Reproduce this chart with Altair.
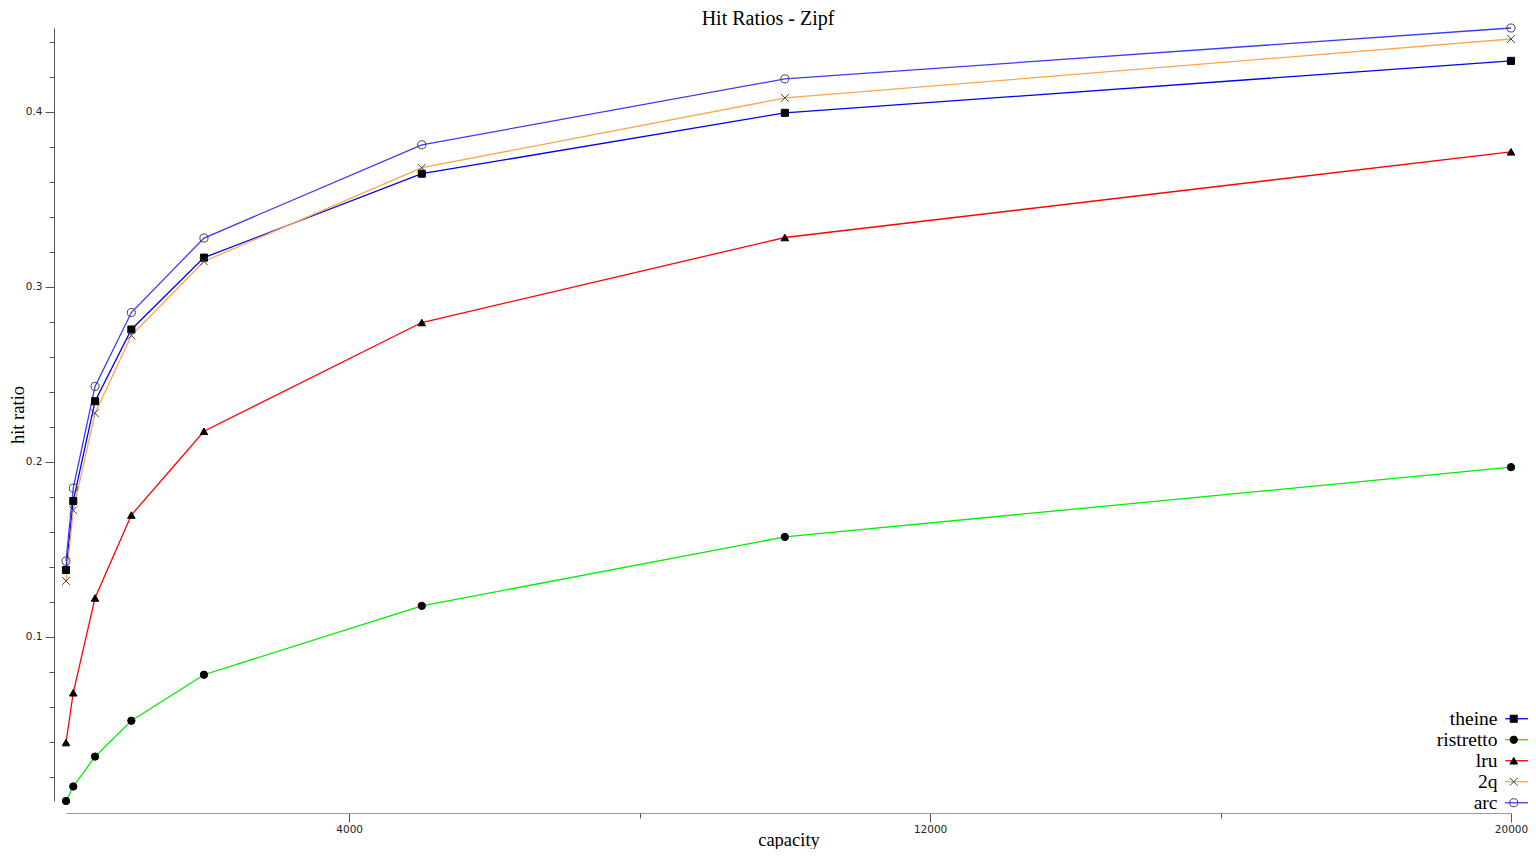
import altair as alt
import pandas as pd

# ---- data ----
capacity = [100, 200, 500, 1000, 2000, 5000, 10000, 20000]
theine = [0.1381, 0.1775, 0.2346, 0.2756, 0.3167, 0.3647, 0.3995, 0.4292]
ristretto = [0.0060, 0.0143, 0.0314, 0.0519, 0.0782, 0.1176, 0.1570, 0.1969]
lru = [0.0394, 0.0679, 0.1221, 0.1695, 0.2174, 0.2796, 0.3282, 0.3772]
twoq = [0.1318, 0.1723, 0.2277, 0.2722, 0.3145, 0.3681, 0.4080, 0.4417]
arc = [0.1432, 0.1849, 0.2431, 0.2853, 0.3279, 0.3812, 0.4189, 0.4480]

series_names = ["theine", "ristretto", "lru", "2q", "arc"]
series_values = [theine, ristretto, lru, twoq, arc]

line_colors = ["#0000ee", "#00ee00", "#ff0000", "#ffa54f", "#3a3aff"]
marker_shapes = ["square", "circle", "triangle-up", "M-1,-1L1,1M-1,1L1,-1", "circle"]
marker_fills = ["#000000", "#000000", "#000000", "transparent", "transparent"]
marker_strokes = ["#000000", "#000000", "#000000", "#444444", "#444444"]
marker_sizes = [50, 65, 60, 45, 85]

x_major_ticks = [4000, 12000, 20000]
x_minor_ticks = [8000, 16000]
y_major_ticks = [0.1, 0.2, 0.3, 0.4]
y_minor_ticks = [0.02, 0.04, 0.06, 0.08, 0.10, 0.12, 0.14, 0.16, 0.18, 0.20, 0.22,
                 0.24, 0.26, 0.28, 0.30, 0.32, 0.34, 0.36, 0.38, 0.40, 0.42, 0.44]

rows = []
for i, (name, vals) in enumerate(zip(series_names, series_values)):
    for c, v in zip(capacity, vals):
        rows.append({"capacity": c, "ratio": v, "series": name, "marker": name, "order": i})
df = pd.DataFrame(rows)

all_vals = [v for vals in series_values for v in vals]
y_domain = [min(all_vals), max(all_vals)]
x_domain = [min(capacity), max(capacity)]

SERIF = "Liberation Serif"
SANS = "DejaVu Sans"
LEGEND_FONT = 19.5

x_scale = alt.Scale(domain=x_domain, nice=False, zero=False)
y_scale = alt.Scale(domain=y_domain, nice=False, zero=False)

x_axis_major = alt.Axis(values=x_major_ticks, format="d", title="capacity", orient="bottom",
                        offset=12, tickSize=9, labelPadding=2, grid=False,
                        domainColor="#999999", tickColor="#555555", labelColor="#222222",
                        labelFont=SANS, labelFontSize=10.5, labelFlush=False, labelOverlap=False,
                        titleFont=SERIF, titleFontSize=18.5, titleFontWeight="normal",
                        titleColor="black", titleBaseline="alphabetic", titlePadding=11)
x_axis_minor = alt.Axis(values=x_minor_ticks, labels=False, title=None, orient="bottom",
                        offset=12, tickSize=5, domain=False, grid=False, tickColor="#555555")
y_axis_major = alt.Axis(values=y_major_ticks, format=".1f", title="hit ratio", orient="left",
                        offset=12, tickSize=9, labelPadding=3, grid=False,
                        domainColor="#555555", tickColor="#555555", labelColor="#222222",
                        labelFont=SANS, labelFontSize=10.5, labelOverlap=False,
                        titleFont=SERIF, titleFontSize=18.5, titleFontWeight="normal",
                        titleColor="black", titleBaseline="alphabetic", titlePadding=2)
y_axis_minor = alt.Axis(values=y_minor_ticks, labels=False, title=None, orient="left",
                        offset=12, tickSize=5, domain=False, grid=False, tickColor="#555555")

# line sample: a short horizontal stroke, normalised path scaled by the symbol size
legend_line = alt.Legend(orient="none", legendX=1443, legendY=681, title=None,
                         symbolType="M-3,0H3", symbolSize=81, symbolStrokeWidth=1.3,
                         symbolFillColor="transparent",
                         labelFont=SERIF, labelFontSize=LEGEND_FONT, labelColor="black",
                         labelAlign="right", labelOffset={"expr": "-31"}, labelLimit=400,
                         rowPadding=0, padding=0, symbolOpacity=1)
legend_marker = alt.Legend(orient="none", legendX=1438, legendY=681, title=None,
                           labelFont=SERIF, labelFontSize=LEGEND_FONT, labelOpacity=0,
                           labelAlign="right", labelOffset={"expr": "-33"}, labelLimit=400,
                           rowPadding=0, padding=0, symbolStrokeWidth=1, symbolOpacity=1)

marker_sort = alt.EncodingSortField(field="order", op="min")

base = alt.Chart(df)

lines = base.mark_line(strokeWidth=1.3).encode(
    x=alt.X("capacity:Q", scale=x_scale, axis=x_axis_major),
    y=alt.Y("ratio:Q", scale=y_scale, axis=y_axis_major),
    color=alt.Color("series:N", scale=alt.Scale(domain=series_names, range=line_colors),
                    legend=legend_line),
)

points = base.mark_point(opacity=1, strokeWidth=1).encode(
    x=alt.X("capacity:Q", scale=x_scale, axis=x_axis_minor),
    y=alt.Y("ratio:Q", scale=y_scale, axis=y_axis_minor),
    shape=alt.Shape("marker:N", sort=marker_sort, scale=alt.Scale(range=marker_shapes),
                    legend=legend_marker),
    fill=alt.Fill("marker:N", sort=marker_sort, scale=alt.Scale(range=marker_fills),
                  legend=legend_marker),
    stroke=alt.Stroke("marker:N", sort=marker_sort, scale=alt.Scale(range=marker_strokes),
                      legend=legend_marker),
    size=alt.Size("marker:N", sort=marker_sort, scale=alt.Scale(range=marker_sizes),
                  legend=legend_marker),
)

chart = alt.layer(lines, points).resolve_axis(x="independent", y="independent").properties(
    width=1445,
    height=773,
    background="white",
    title=alt.Title("Hit Ratios - Zipf", font=SERIF, fontSize=20, fontWeight="normal",
                    color="black", anchor="middle", frame="group", dx=-20.5, dy=7, offset=0),
    autosize=alt.AutoSizeParams(type="none"),
    padding={"left": 58, "top": 20, "right": 17, "bottom": 48},
).configure_view(stroke=None)

chart.save("out.html", embed_options={"renderer": "svg", "actions": False})
